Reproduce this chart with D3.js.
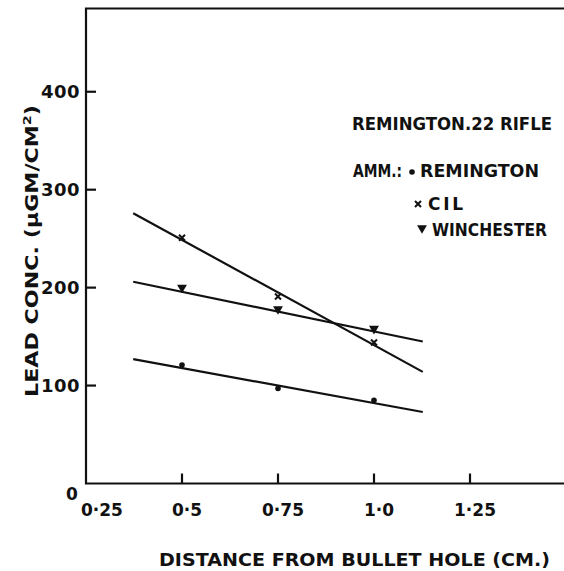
<!doctype html>
<html>
<head>
<meta charset="utf-8"/>
<script src="https://cdnjs.cloudflare.com/ajax/libs/d3/7.8.5/d3.min.js"></script>
<style>
  body { margin: 0; background: #fff; }
  svg { display: block; }
  text { font-family: "DejaVu Sans", sans-serif; font-weight: bold; fill: #111; }
  .axis { stroke: #111; stroke-width: 2.2px; fill: none; }
  .fit { stroke: #111; stroke-width: 2.2px; fill: none; }
</style>
</head>
<body>
<svg width="564" height="571"></svg>
<script>
// values
var distance = [0.5, 0.75, 1.0];
var remington = [121, 97, 85];
var cil = [251, 191, 144];
var winchester = [198, 176, 156];

// fitted straight lines (end points)
var fitX = [0.373, 1.127];
var remingtonFit = [127, 73];
var cilFit = [276, 114];
var winchesterFit = [206, 145];

var xTicks = [0.25, 0.5, 0.75, 1.0, 1.25];
var xTickLabels = ["0·25", "0·5", "0·75", "1·0", "1·25"];
var yTicks = [100, 200, 300, 400];

var seriesNames = ["REMINGTON", "CIL", "WINCHESTER"];
var seriesSymbols = ["dot", "cross", "tri"];

var svg = d3.select("svg");

var x = d3.scaleLinear().domain([0.25, 1.5]).range([86, 566]);
var y = d3.scaleLinear().domain([0, 485]).range([483.5, 8.5]);

// frame: left, top, bottom
svg.append("path").attr("class", "axis")
  .attr("d", "M564," + y(485) + "H" + x(0.25) + "V" + y(0) + "H564");

// x ticks (pointing up, inside)
svg.append("g").selectAll("line")
  .data(xTicks.slice(1))
  .enter().append("line")
  .attr("class", "axis")
  .attr("x1", d => x(d)).attr("x2", d => x(d))
  .attr("y1", y(0)).attr("y2", y(0) - 10);

svg.append("g").selectAll("text")
  .data(xTicks)
  .enter().append("text")
  .attr("x", (d, i) => i == 0 ? x(d) - 5 : x(d) + 5)
  .attr("y", 516)
  .attr("text-anchor", (d, i) => i == 0 ? "start" : "middle")
  .style("font-size", "17px")
  .text((d, i) => xTickLabels[i]);

// y ticks (pointing right, inside)
svg.append("g").selectAll("line")
  .data(yTicks)
  .enter().append("line")
  .attr("class", "axis")
  .attr("x1", x(0.25)).attr("x2", x(0.25) + 10)
  .attr("y1", d => y(d)).attr("y2", d => y(d));

svg.append("g").selectAll("text")
  .data(yTicks)
  .enter().append("text")
  .attr("x", 80)
  .attr("y", d => y(d) + 6.5)
  .attr("text-anchor", "end")
  .style("font-size", "18px")
  .style("letter-spacing", "0.5px")
  .text(d => d);

svg.append("text")
  .attr("x", 66).attr("y", 500)
  .style("font-size", "17px")
  .text("0");

// axis titles
svg.append("text")
  .attr("x", 159).attr("y", 566)
  .attr("textLength", 391).attr("lengthAdjust", "spacingAndGlyphs")
  .style("font-size", "17px")
  .text("DISTANCE  FROM  BULLET HOLE  (CM.)");

svg.append("text")
  .attr("transform", "translate(38,397) rotate(-90)")
  .attr("textLength", 292).attr("lengthAdjust", "spacingAndGlyphs")
  .style("font-size", "17px")
  .html("LEAD  CONC.  (μGM/CM<tspan dy='-7' font-size='11'>2</tspan><tspan dy='7'>)</tspan>");

// fitted lines
var fits = [remingtonFit, cilFit, winchesterFit];
svg.append("g").selectAll("line")
  .data(fits)
  .enter().append("line")
  .attr("class", "fit")
  .attr("x1", x(fitX[0])).attr("x2", x(fitX[1]))
  .attr("y1", d => y(d[0])).attr("y2", d => y(d[1]));

// markers
function drawMarker(g, kind, cx, cy) {
  if (kind == "dot") {
    g.append("circle").attr("cx", cx).attr("cy", cy).attr("r", 2.8).attr("fill", "#111");
  } else if (kind == "cross") {
    g.append("path")
      .attr("d", "M" + (cx - 3) + "," + (cy - 3) + "L" + (cx + 3) + "," + (cy + 3) +
                 "M" + (cx + 3) + "," + (cy - 3) + "L" + (cx - 3) + "," + (cy + 3))
      .attr("stroke", "#111").attr("stroke-width", 2);
  } else {
    g.append("path")
      .attr("d", d3.symbol().type(d3.symbolTriangle).size(42)())
      .attr("transform", "translate(" + cx + "," + cy + ") rotate(180)")
      .attr("fill", "#111");
  }
}

var allSeries = [remington, cil, winchester];
var pts = svg.append("g");
allSeries.forEach((vals, s) => {
  vals.forEach((v, i) => {
    drawMarker(pts, seriesSymbols[s], x(distance[i]), y(v) - (s == 2 ? 2 : 0));
  });
});

// legend
svg.append("text")
  .attr("x", 352).attr("y", 130)
  .attr("textLength", 200).attr("lengthAdjust", "spacingAndGlyphs")
  .style("font-size", "17px")
  .text("REMINGTON.22 RIFLE");

svg.append("text")
  .attr("x", 353).attr("y", 177)
  .attr("textLength", 49).attr("lengthAdjust", "spacingAndGlyphs")
  .style("font-size", "17px")
  .text("AMM.:");

var legendRows = [
  {mx: 412, my: 172, tx: 420, ty: 177, w: 119, adj: "spacingAndGlyphs"},
  {mx: 418, my: 204, tx: 428, ty: 210, w: 35, adj: "spacing"},
  {mx: 422, my: 228, tx: 432, ty: 236, w: 115, adj: "spacingAndGlyphs"}
];
legendRows.forEach((r, i) => {
  drawMarker(svg, seriesSymbols[i], r.mx, r.my);
  svg.append("text")
    .attr("x", r.tx).attr("y", r.ty)
    .attr("textLength", r.w).attr("lengthAdjust", r.adj)
    .style("font-size", "17px")
    .text(seriesNames[i]);
});
</script>
</body>
</html>
